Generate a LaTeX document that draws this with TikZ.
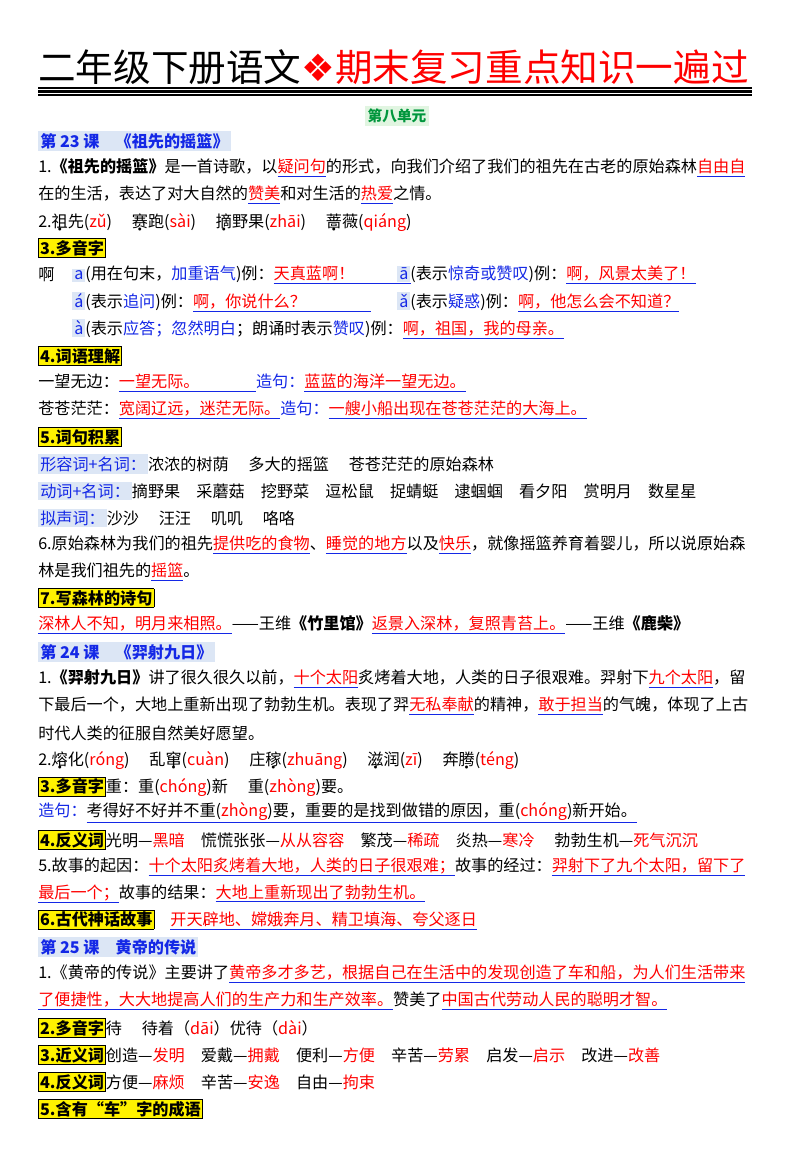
\documentclass[tikz,border=0pt]{standalone}
\usepackage{fontspec}
\setmainfont{Noto Sans CJK SC}
\newfontfamily\djv{DejaVu Sans}
\definecolor{bl}{RGB}{20,40,230}
\definecolor{hb}{RGB}{220,230,245}
\definecolor{gb}{RGB}{225,245,225}
\definecolor{gt}{RGB}{0,150,60}
\newcommand\rd[1]{\textcolor{red}{#1}}
\newcommand\bb[1]{\textcolor{bl}{#1}}
\newcommand\ul[2][0pt]{\textcolor{bl}{\underline{\textcolor{red}{#2}\hspace{#1}}}}
\newcommand\ulk[1]{\textcolor{bl}{\underline{\textcolor{black}{#1}}}}
\newcommand\yb[1]{{\setlength\fboxsep{1pt}\fcolorbox{black}{yellow}{\textbf{#1}}}}
\newcommand\hbx[1]{{\setlength\fboxsep{1.5pt}\colorbox{hb}{#1}}}
\newcommand\dt[1]{\setbox0\hbox{#1}\rlap{\hbox to\wd0{\hss\smash{\raisebox{-3pt}{\scalebox{0.5}{$\bullet$}}}\hss}}\box0}
\begin{document}
\begin{tikzpicture}[x=0.75pt,y=-0.75pt,
 t/.style={anchor=west,inner sep=0,font=\fontsize{12.1}{14}\selectfont}]
\useasboundingbox (0,0) rectangle (800,1159);
\fill[white] (0,0) rectangle (800,1159);
\node[anchor=west,inner sep=0,font=\fontsize{28.2}{30}\selectfont] (title) at (38,67) {二年级下册语文\textcolor{red}{{\djv ❖}期末复习重点知识一遍过}};
\draw[line width=0.8pt] (38,88) -- (752,88);
\draw[line width=1.6pt] (38,91.5) -- (752,91.5);
\draw[line width=0.8pt] (38,95) -- (752,95);
\node[anchor=center,inner sep=2pt,fill=gb,text=gt,font=\bfseries\fontsize{11}{12}\selectfont] (u8) at (397,116) {第八单元};
% lesson 23
\node[t] (l23) at (38,141) {\hbx{\textbf{\bb{第 23 课\quad《祖先的摇篮》}}}};
\node[t] (a1) at (38,168) {1.\textbf{《祖先的摇篮》}是一首诗歌，以\ul{疑问句}的形式，向我们介绍了我们的祖先在古老的原始森林\ul{自由自}};
\node[t] (a2) at (38,195) {在的生活，表达了对大自然的\ul{赞美}和对生活的\ul{热爱}之情。};
\node[t] (a3) at (38,222) {2.\dt{祖}先(\rd{zǔ})\quad\ \dt{赛}跑(\rd{sài})\quad\ \dt{摘}野果(\rd{zhāi})\quad\ \dt{蔷}薇(\rd{qiáng})};
\node[t] (h3) at (38,248) {\yb{3.多音字}};
\node[t] (ah) at (38,275) {啊};
\node[t] (r1a) at (72,275) {\hbx{\bb{a}}(用在句末，\bb{加重语气})例：\ul[3.5em]{天真蓝啊！}};
\node[t] (r1b) at (397,275) {\hbx{\bb{ā}}(表示\bb{惊奇或赞叹})例：\ul{啊，风景太美了！}};
\node[t] (r2a) at (72,302) {\hbx{\bb{á}}(表示\bb{追问})例：\ul[4em]{啊，你说什么？}};
\node[t] (r2b) at (397,302) {\hbx{\bb{ǎ}}(表示\bb{疑惑})例：\ul{啊，他怎么会不知道？}};
\node[t] (r3) at (72,329) {\hbx{\bb{à}}(表示\bb{应答；忽然明白}；朗诵时表示\bb{赞叹})例：\ul{啊，祖国，我的母亲。}};
\node[t] (h4) at (38,356) {\yb{4.词语理解}};
\node[t] (w1) at (38,383) {一望无边：\ul[3.5em]{一望无际。}\bb{造句：}\ul{蓝蓝的海洋一望无边。}};
\node[t] (w2) at (38,410) {苍苍茫茫：\ul{宽阔辽远，迷茫无际。}\bb{造句：}\ul{一艘小船出现在苍苍茫茫的大海上。}};
\node[t] (h5) at (38,437) {\yb{5.词句积累}};
\node[t] (c1) at (38,464) {\hbx{\bb{形容词+名词：}}浓浓的树荫\quad\ 多大的摇篮\quad\ 苍苍茫茫的原始森林};
\node[t] (c2) at (38,491) {\hbx{\bb{动词+名词：}}摘野果\quad 采蘑菇\quad 挖野菜\quad 逗松鼠\quad 捉蜻蜓\quad 逮蝈蝈\quad 看夕阳\quad 赏明月\quad 数星星};
\node[t] (c3) at (38,518) {\hbx{\bb{拟声词：}}沙沙\quad\ 汪汪\quad\ 叽叽\quad\ 咯咯};
\node[t] (s6) at (38,545) {6.原始森林为我们的祖先\ul{提供吃的食物}、\ul{睡觉的地方}以及\ul{快乐}，就像摇篮养育着婴儿，所以说原始森};
\node[t] (s6b) at (38,572) {林是我们祖先的\ul{摇篮}。};
\node[t] (h7) at (38,598) {\yb{7.写森林的诗句}};
\node[t] (p7) at (38,625) {\ul{深林人不知，明月来相照。}——王维\textbf{《竹里馆》}\ul{返景入深林，复照青苔上。}——王维\textbf{《鹿柴》}};
% lesson 24
\node[t] (l24) at (38,652) {\hbx{\textbf{\bb{第 24 课\quad《羿射九日》}}}};
\node[t] (b1) at (38,679) {1.\textbf{《羿射九日》}讲了很久很久以前，\ul{十个太阳}炙烤着大地，人类的日子很艰难。羿射下\ul{九个太阳}，留};
\node[t] (b2) at (38,706) {下最后一个，大地上重新出现了勃勃生机。表现了羿\ul{无私奉献}的精神，\ul{敢于担当}的气魄，体现了上古};
\node[t] (b3) at (38,733) {时代人类的征服自然美好愿望。};
\node[t] (b4) at (38,760) {2.\dt{熔}化(\rd{róng})\quad\ 乱\dt{窜}(\rd{cuàn})\quad\ 庄\dt{稼}(\rd{zhuāng})\quad\ \dt{滋}润(\rd{zī})\quad\ 奔\dt{腾}(\rd{téng})};
\node[t] (b5) at (38,787) {\yb{3.多音字}重：重(\rd{chóng})新\quad\ 重(\rd{zhòng})要。};
\node[t] (b6) at (38,813) {\bb{造句：}\ulk{考得好不好并不重(\rd{zhòng})要，重要的是找到做错的原因，重(\rd{chóng})新开始。}};
\node[t] (b7) at (38,840) {\yb{4.反义词}光明—\rd{黑暗}\quad 慌慌张张—\rd{从从容容}\quad 繁茂—\rd{稀疏}\quad 炎热—\rd{寒冷}\quad\ 勃勃生机—\rd{死气沉沉}};
\node[t] (b8) at (38,867) {5.故事的起因：\ul{十个太阳炙烤着大地，人类的日子很艰难；}故事的经过：\ul{羿射下了九个太阳，留下了}};
\node[t] (b9) at (38,894) {\ul{最后一个；}故事的结果：\ul{大地上重新现出了勃勃生机。}};
\node[t] (b10) at (38,920) {\yb{6.古代神话故事}\quad\ul{开天辟地、嫦娥奔月、精卫填海、夸父逐日}};
% lesson 25
\node[t] (l25) at (38,947) {\hbx{\textbf{\bb{第 25 课\quad 黄帝的传说}}}};
\node[t] (d1) at (38,974) {1.《黄帝的传说》主要讲了\ul{黄帝多才多艺，根据自己在生活中的发现创造了车和船，为人们生活带来}};
\node[t] (d2) at (38,1001) {\ul{了便捷性，大大地提高人们的生产力和生产效率。}赞美了\ul{中国古代劳动人民的聪明才智。}};
\node[t] (d3) at (38,1028) {\yb{2.多音字}待\quad\ 待着（\rd{dāi}）优待（\rd{dài}）};
\node[t] (d4) at (38,1055) {\yb{3.近义词}创造—\rd{发明}\quad 爱戴—\rd{拥戴}\quad 便利—\rd{方便}\quad 辛苦—\rd{劳累}\quad 启发—\rd{启示}\quad 改进—\rd{改善}};
\node[t] (d5) at (38,1082) {\yb{4.反义词}方便—\rd{麻烦}\quad 辛苦—\rd{安逸}\quad 自由—\rd{拘束}};
\node[t] (d6) at (38,1109) {\yb{5.含有“车”字的成语}};
\end{tikzpicture}
\end{document}
